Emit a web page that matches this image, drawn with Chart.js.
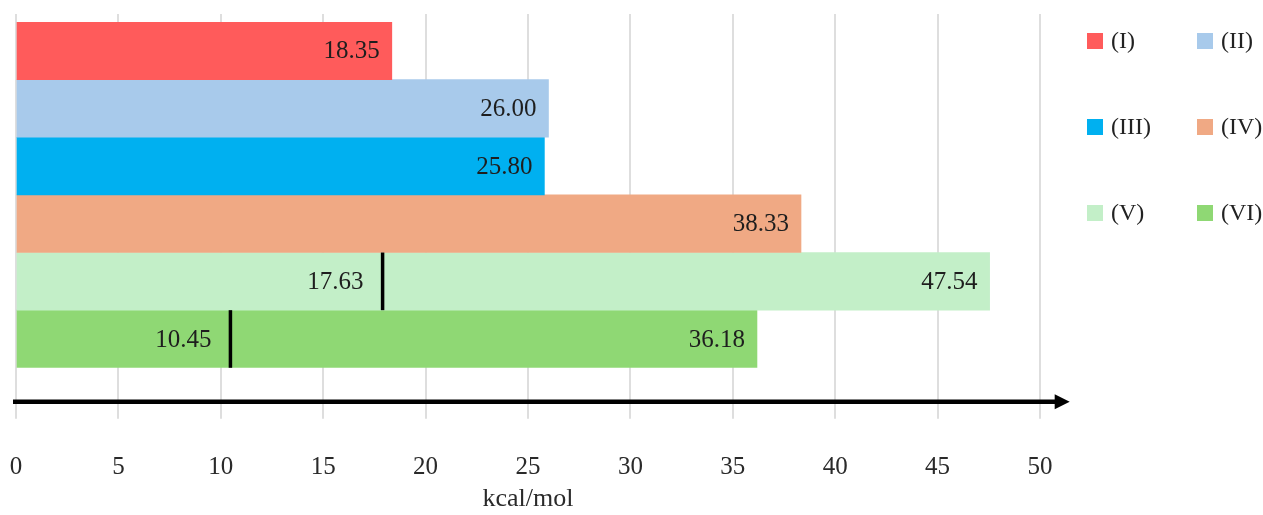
<!DOCTYPE html>
<html>
<head>
<meta charset="utf-8">
<script src="https://cdn.jsdelivr.net/npm/chart.js@4/dist/chart.umd.min.js"></script>
<style>
  html, body { margin: 0; padding: 0; background: #fff; }
  #wrap { position: relative; width: 1263px; height: 515px; }
  #legend { position: absolute; left: 1087px; top: 27px; font-family: 'Liberation Serif', serif; font-size: 24px; color: #222; }
  .item { position: absolute; display: flex; align-items: center; white-space: nowrap; }
  .sw { width: 16px; height: 16px; margin-right: 8px; }
</style>
</head>
<body>
<div id="wrap">
  <canvas id="c" width="1263" height="515"></canvas>
  <div id="legend"></div>
</div>
<script>
// ---- data ----
const categories = ['(I)', '(II)', '(III)', '(IV)', '(V)', '(VI)'];
const values = [18.35, 26.00, 25.80, 38.33, 47.54, 36.18];
const markerValues = [null, null, null, null, 17.63, 10.45];     // printed values
const markerPositions = [null, null, null, null, 17.9, 10.47];   // where the marks sit in the picture
const xTicks = [0, 5, 10, 15, 20, 25, 30, 35, 40, 45, 50];
const colors = ['#FF5B5B', '#A8CAEB', '#00B0F0', '#F0A984', '#C3EFC8', '#8FD874'];
const axisTitle = 'kcal/mol';

const FONT = "'Liberation Serif', serif";
const GRID = '#dedede';
const GW = 2;

const datasets = categories.map((name, i) => ({
  label: name,
  data: categories.map((_, j) => (j === i ? values[i] : null)),
  backgroundColor: colors[i],
  grouped: false,
  barPercentage: 1,
  categoryPercentage: 1,
  borderWidth: 0
}));

const align = (p) => Math.round(p - GW / 2) + GW / 2;

const overlay = {
  id: 'overlay',
  beforeDatasetsDraw(chart) {
    const ctx = chart.ctx, xs = chart.scales.x, ca = chart.chartArea;
    ctx.save();
    ctx.strokeStyle = GRID;
    ctx.lineWidth = GW;
    xTicks.forEach(t => {
      const px = align(xs.getPixelForValue(t));
      ctx.beginPath(); ctx.moveTo(px, ca.top - 8); ctx.lineTo(px, ca.top); ctx.stroke();
      ctx.beginPath(); ctx.moveTo(px, ca.bottom); ctx.lineTo(px, ca.bottom + 51); ctx.stroke();
    });
    ctx.restore();
  },
  afterDatasetsDraw(chart) {
    const ctx = chart.ctx, xs = chart.scales.x, ca = chart.chartArea;
    ctx.save();
    ctx.font = "25px " + FONT;
    ctx.fillStyle = '#1e1e1e';
    ctx.textBaseline = 'middle';
    ctx.textAlign = 'right';
    categories.forEach((_, i) => {
      const el = chart.getDatasetMeta(i).data[i];
      if (!el) return;
      ctx.fillText(values[i].toFixed(2), el.x - 12, el.y + 1);
      const m = markerPositions[i];
      if (m != null) {
        const mx = xs.getPixelForValue(m);
        ctx.strokeStyle = '#000';
        ctx.lineWidth = 3.5;
        ctx.beginPath();
        ctx.moveTo(mx, el.y - el.height / 2);
        ctx.lineTo(mx, el.y + el.height / 2);
        ctx.stroke();
        ctx.fillText(markerValues[i].toFixed(2), mx - 19, el.y + 1);
      }
    });
    // axis arrow
    const y = ca.bottom + 34;
    const x0 = xs.getPixelForValue(0) - 3;
    const xEnd = xs.getPixelForValue(51.45);
    ctx.strokeStyle = '#000';
    ctx.fillStyle = '#000';
    ctx.lineWidth = 4.5;
    ctx.beginPath(); ctx.moveTo(x0, y); ctx.lineTo(xEnd - 12, y); ctx.stroke();
    ctx.beginPath();
    ctx.moveTo(xEnd, y); ctx.lineTo(xEnd - 15, y - 7.5); ctx.lineTo(xEnd - 15, y + 7.5); ctx.closePath(); ctx.fill();
    ctx.restore();
  }
};

new Chart(document.getElementById('c'), {
  type: 'bar',
  data: { labels: categories, datasets },
  options: {
    indexAxis: 'y',
    responsive: false,
    animation: false,
    layout: { padding: { top: 22, left: 16, right: 223, bottom: 0 } },
    plugins: { legend: { display: false }, tooltip: { enabled: false } },
    scales: {
      y: { display: false },
      x: {
        min: 0, max: 50,
        afterBuildTicks(s) { s.ticks = xTicks.map(v => ({ value: v })); },
        grid: { color: GRID, lineWidth: GW, tickLength: 85, drawTicks: true, tickColor: 'rgba(0,0,0,0)' },
        border: { display: false },
        ticks: { font: { family: FONT, size: 25 }, color: '#2a2a2a', padding: 0, maxRotation: 0 },
        title: { display: true, text: axisTitle, font: { family: FONT, size: 26 }, color: '#2a2a2a', padding: { top: 1, bottom: 0 } }
      }
    }
  },
  plugins: [overlay]
});

// legend (row-major, two columns)
const leg = document.getElementById('legend');
categories.forEach((name, i) => {
  const d = document.createElement('div');
  d.className = 'item';
  d.style.left = (i % 2) * 110 + 'px';
  d.style.top = Math.floor(i / 2) * 86 + 'px';
  d.innerHTML = '<span class="sw" style="background:' + colors[i] + '"></span><span>' + name + '</span>';
  leg.appendChild(d);
});
</script>
</body>
</html>
